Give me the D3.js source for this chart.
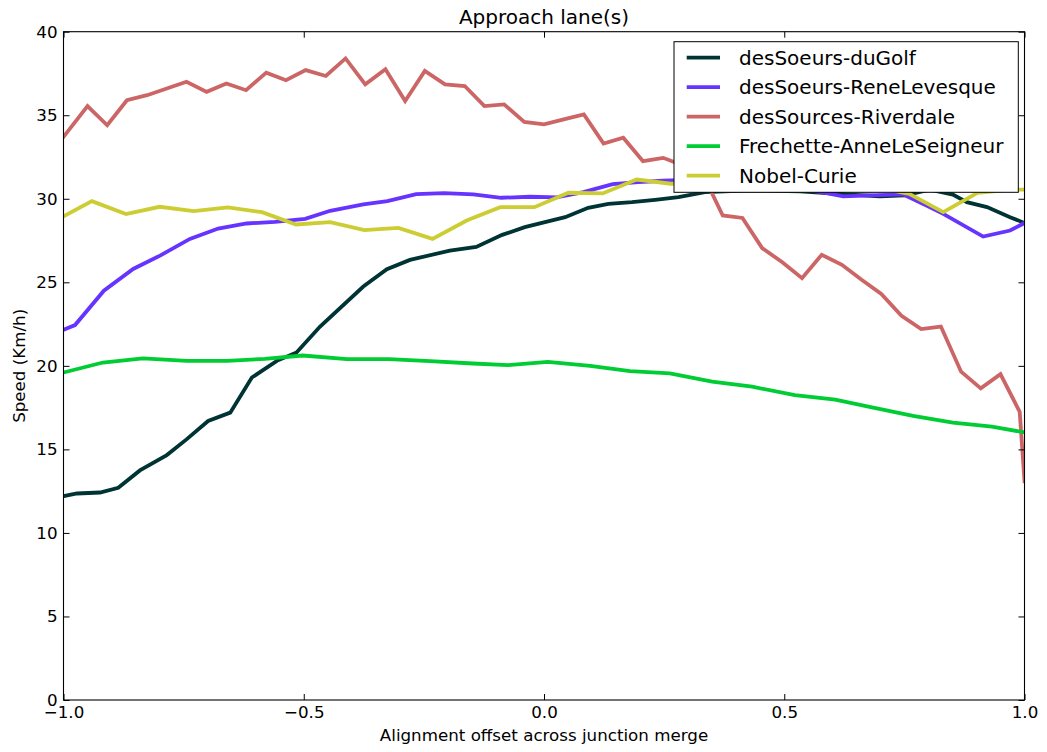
<!DOCTYPE html>
<html><head><meta charset="utf-8">
<script src="https://cdn.jsdelivr.net/npm/d3@7"></script>
<style>
body{margin:0;background:#fff}
svg{display:block}
text{font-family:"DejaVu Sans",sans-serif;fill:#000}
</style>
</head><body>
<svg id="chart" width="1047" height="752"></svg>
<script>
// ---------- data ----------
const seriesNames = ["desSoeurs-duGolf","desSoeurs-ReneLevesque","desSources-Riverdale","Frechette-AnneLeSeigneur","Nobel-Curie"];
const seriesColors = ["#003333","#6633ff","#cc6666","#00cc33","#cccc33"];

const xDuGolf = [-1.000,-0.972,-0.924,-0.886,-0.841,-0.785,-0.744,-0.699,-0.653,-0.608,-0.556,-0.515,-0.466,-0.376,-0.327,-0.279,-0.196,-0.141,-0.087,-0.040,0.002,0.044,0.092,0.134,0.183,0.231,0.280,0.335,0.429,0.533,0.637,0.699,0.751,0.803,0.851,0.880,0.922,0.970,1.000];
const yDuGolf = [12.2,12.36,12.42,12.7,13.74,14.66,15.6,16.7,17.2,19.3,20.3,20.8,22.35,24.75,25.78,26.34,26.9,27.12,27.84,28.3,28.6,28.9,29.46,29.7,29.8,29.94,30.1,30.4,30.5,30.45,30.25,30.15,30.2,30.55,30.25,29.8,29.5,28.9,28.55];

const xReneLevesque = [-1.000,-0.976,-0.916,-0.855,-0.799,-0.737,-0.678,-0.619,-0.560,-0.497,-0.445,-0.376,-0.326,-0.266,-0.208,-0.147,-0.089,-0.029,0.026,0.082,0.143,0.196,0.248,0.283,0.366,0.470,0.554,0.588,0.623,0.678,0.748,0.796,0.831,0.914,0.970,1.000];
const yReneLevesque = [22.16,22.44,24.5,25.8,26.6,27.6,28.22,28.52,28.62,28.8,29.28,29.66,29.86,30.28,30.34,30.26,30.06,30.12,30.08,30.4,30.88,31.0,31.08,31.12,31.0,30.8,30.5,30.34,30.14,30.2,30.26,29.6,29.1,27.74,28.1,28.55];

const xRiverdale = [-1.000,-0.950,-0.909,-0.868,-0.826,-0.785,-0.744,-0.702,-0.661,-0.620,-0.578,-0.537,-0.496,-0.454,-0.413,-0.372,-0.330,-0.289,-0.248,-0.206,-0.165,-0.124,-0.083,-0.041,0.000,0.041,0.083,0.124,0.165,0.206,0.248,0.289,0.330,0.372,0.413,0.454,0.496,0.537,0.578,0.620,0.661,0.702,0.744,0.785,0.826,0.868,0.909,0.950,0.990,1.000];
const yRiverdale = [33.7,35.55,34.4,35.9,36.2,36.6,37.0,36.4,36.9,36.5,37.55,37.1,37.7,37.35,38.4,36.85,37.75,35.85,37.65,36.85,36.75,35.55,35.65,34.6,34.45,34.75,35.05,33.3,33.65,32.25,32.45,32.0,31.5,29.0,28.85,27.05,26.2,25.25,26.65,26.05,25.15,24.3,23.0,22.2,22.35,19.65,18.65,19.5,17.25,13.1];

const xAnneLeSeigneur = [-1.000,-0.918,-0.835,-0.743,-0.660,-0.581,-0.502,-0.410,-0.323,-0.237,-0.148,-0.075,0.008,0.096,0.179,0.262,0.350,0.433,0.522,0.606,0.685,0.768,0.851,0.932,1.000];
const yAnneLeSeigneur = [19.6,20.2,20.45,20.3,20.3,20.42,20.62,20.4,20.4,20.28,20.14,20.04,20.24,20.0,19.68,19.55,19.05,18.75,18.25,17.98,17.5,17.0,16.6,16.36,16.02];

const xNobelCurie = [-1.000,-0.941,-0.870,-0.800,-0.729,-0.658,-0.587,-0.516,-0.445,-0.374,-0.303,-0.232,-0.161,-0.091,-0.020,0.051,0.122,0.193,0.264,0.335,0.406,0.477,0.547,0.618,0.689,0.760,0.831,0.902,0.973,1.000];
const yNobelCurie = [28.95,29.86,29.08,29.52,29.26,29.48,29.2,28.46,28.6,28.12,28.26,27.6,28.7,29.5,29.5,30.36,30.32,31.15,30.9,30.95,31.0,30.95,30.9,30.85,30.7,30.3,29.2,30.35,30.55,30.55];

const xTicks = [-1.0,-0.5,0.0,0.5,1.0];
const yTicks = [0,5,10,15,20,25,30,35,40];

const titleText = "Approach lane(s)";
const xLabelText = "Alignment offset across junction merge";
const yLabelText = "Speed (Km/h)";

// ---------- build ----------
const allX = [xDuGolf,xReneLevesque,xRiverdale,xAnneLeSeigneur,xNobelCurie];
const allY = [yDuGolf,yReneLevesque,yRiverdale,yAnneLeSeigneur,yNobelCurie];
const series = seriesNames.map((n,i)=>({name:n,color:seriesColors[i],pts:allX[i].map((xv,j)=>[xv,allY[i][j]])}));

const L=63.5, R=1024.5, T=31.7, B=700;
const svg = d3.select("#chart");
const x = d3.scaleLinear().domain([-1,1]).range([L,R]);
const y = d3.scaleLinear().domain([0,40]).range([B,T]);

svg.append("clipPath").attr("id","clip").append("rect")
  .attr("x",L).attr("y",T).attr("width",R-L).attr("height",B-T);

const line = d3.line().x(d=>x(d[0])).y(d=>y(d[1]));
const g = svg.append("g").attr("clip-path","url(#clip)");
series.forEach(s=>{
  g.append("path").datum(s.pts).attr("d",line)
    .attr("fill","none").attr("stroke",s.color).attr("stroke-width",3.8)
    .attr("stroke-linejoin","miter").attr("stroke-linecap","square");
});

const fmtX = d3.format(".1f");
const tickFont = "16.7px";
const ax = svg.append("g").attr("transform",`translate(0,${B})`)
  .call(d3.axisBottom(x).tickValues(xTicks).tickFormat(fmtX).tickSize(-6).tickPadding(6));
const axT = svg.append("g").attr("transform",`translate(0,${T})`)
  .call(d3.axisTop(x).tickValues(xTicks).tickFormat("").tickSize(-6));
const ay = svg.append("g").attr("transform",`translate(${L},0)`)
  .call(d3.axisLeft(y).tickValues(yTicks).tickFormat(d3.format("d")).tickSize(-6).tickPadding(6));
const ayR = svg.append("g").attr("transform",`translate(${R},0)`)
  .call(d3.axisRight(y).tickValues(yTicks).tickFormat("").tickSize(-6));
[ax,axT,ay,ayR].forEach(a=>{
  a.select(".domain").remove();
  a.selectAll(".tick line").attr("stroke","#000").attr("stroke-width",1);
  a.selectAll(".tick text").style("font-size",tickFont).style("font-family","DejaVu Sans").attr("fill","#000");
});

svg.append("rect").attr("x",L).attr("y",T).attr("width",R-L).attr("height",B-T)
  .attr("fill","none").attr("stroke","#000").attr("stroke-width",1.1);

svg.append("text").attr("x",(L+R)/2).attr("y",24).attr("text-anchor","middle")
  .style("font-size","20px").text(titleText);
svg.append("text").attr("x",(L+R)/2).attr("y",740.5).attr("text-anchor","middle")
  .style("font-size","16.7px").text(xLabelText);
svg.append("text").attr("transform",`translate(24.5,${(T+B)/2}) rotate(-90)`).attr("text-anchor","middle")
  .style("font-size","16.7px").text(yLabelText);

// legend
const lg = svg.append("g");
lg.append("rect").attr("x",674).attr("y",41.7).attr("width",344.3).attr("height",150.6)
  .attr("fill","#fff").attr("stroke","#000").attr("stroke-width",1);
series.forEach((s,i)=>{
  const cy = 57.7 + i*29.5;
  lg.append("line").attr("x1",686.7).attr("x2",720).attr("y1",cy).attr("y2",cy)
    .attr("stroke",s.color).attr("stroke-width",3.8);
  lg.append("text").attr("x",739).attr("y",cy).attr("dy","0.35em")
    .style("font-size","20px").text(s.name);
});
</script>
</body></html>
